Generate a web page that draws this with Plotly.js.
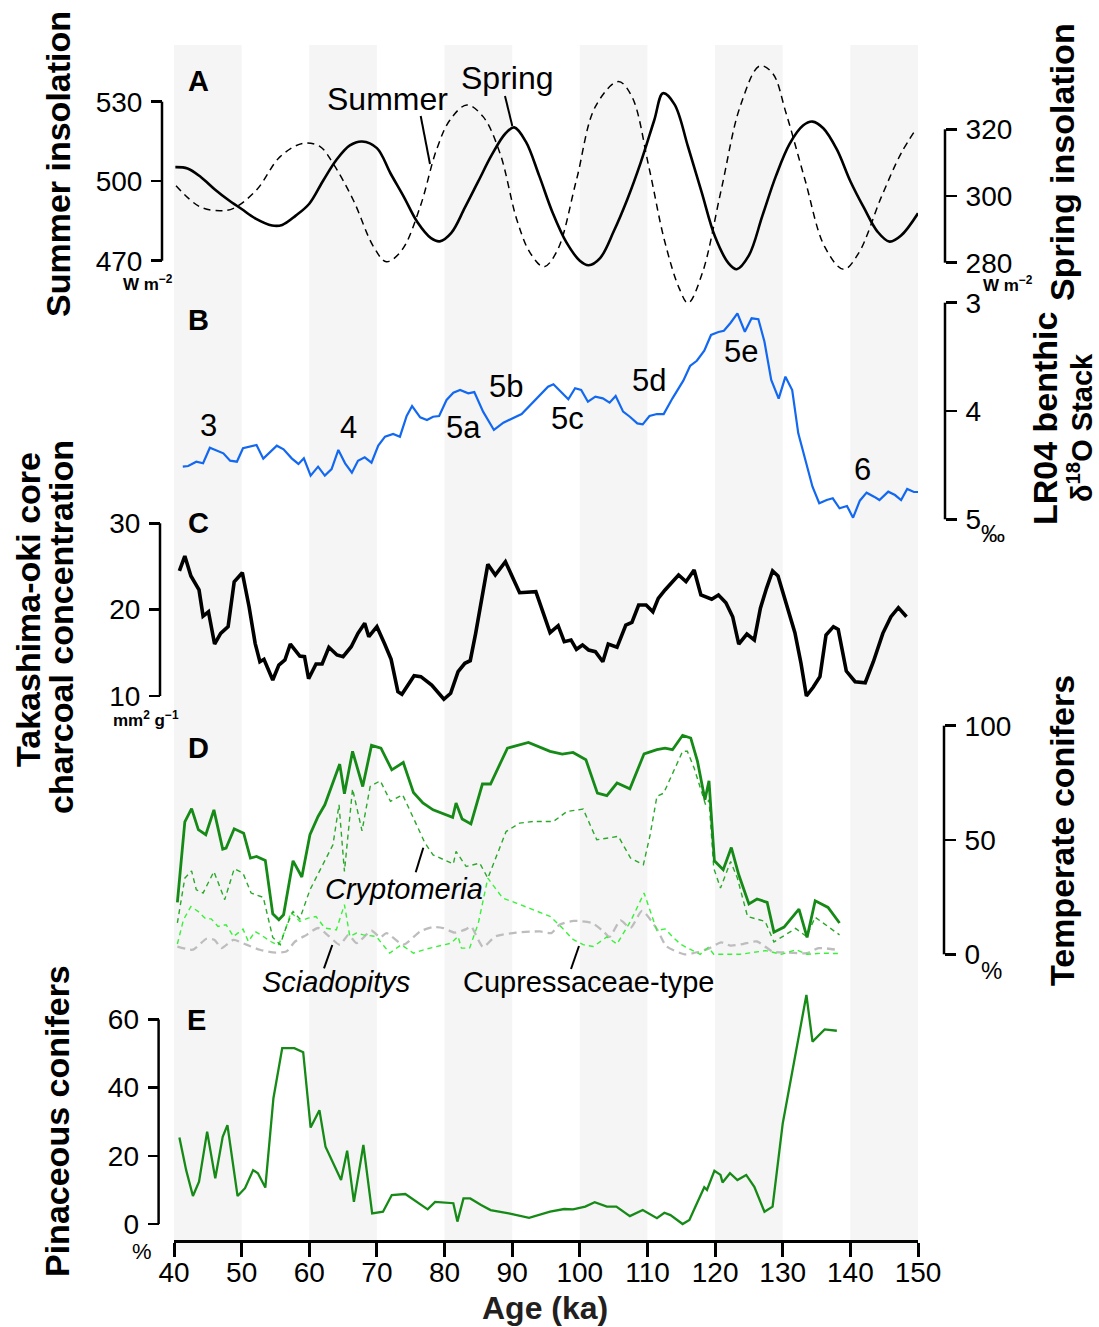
<!DOCTYPE html>
<html>
<head>
<meta charset="utf-8">
<script src="https://cdn.plot.ly/plotly-3.0.1.min.js"></script>
<style>html,body{margin:0;padding:0;background:#fff}#chart{width:1099px;height:1327px}</style>
</head>
<body>
<div id="chart"></div>
<script>
// ---------------- DATA ----------------
// Panel A: insolation (W m-2)
const summerAge = [40.2,42,44,46,48,50,52,54.5,56,58,60,62,64,66,67.8,70,72,74,76,78,79.3,81,83,85,87,89,90.3,92,94,96,98,100,101.3,103,105,107,109,111,112.3,114,116,118,120,122,123.2,125,127,129,131,133,134.4,136,138,140,142,144,145.8,147.5,150];
const summerVal = [505.3,504.8,501.5,497,493,489.5,486,483.3,483.5,487,491.5,500,508,513.5,515,512.5,503,494,484.5,478.5,477.3,480.5,490,500,510,518,520.3,515,502,488,477,470,468.3,471,481,493,507,523,533.2,529,513,496,479,469,466.8,472,487,502,514,521,522.5,520,512,500,490,481,477.2,479.5,487.9];
const springAge = [40.3,43.8,46.8,48.8,52.2,55.7,59.1,61.6,63.5,66.5,69.5,71.4,73.7,76.4,78.8,80.8,83.3,85.7,88.2,90.7,92.7,94.7,96.7,99.5,102.3,105.7,107.7,110.2,112.5,114.7,116,118.1,120.9,123.7,126.6,128.5,130.5,133.3,136.2,139,141.2,144.6,147.5,149.7];
const springVal = [303.1,296.8,295.6,296.3,301.8,311.8,315.8,314.8,309.8,298.8,284.8,280.3,283.8,296.8,313.8,322.8,327.3,323.8,312.8,292.8,282.8,278.8,283.8,304.8,326.8,334.3,329.8,308.8,286.8,272.3,267.9,276.8,301.8,326.8,339,336.8,324.8,304.8,284.8,278,282.8,299.8,312.8,320];

// Panel B: LR04 benthic d18O (permil)
const lrAge = [41.3,42.1,43.3,44.3,45.3,47.3,48.3,49.3,50.2,52.2,53.2,55.2,56.2,57.4,58.4,59.2,60.2,61.3,62.3,63.3,64.3,65.3,66.3,67.2,68.2,69.2,70.2,71.2,72.4,73.4,74.4,75.2,76.4,77.4,78.3,79.2,80.3,81.3,82.3,83.5,84.4,85.7,87.3,88.7,91.4,93.1,95.3,96.1,98.3,99.3,100.2,101.2,102.3,103.4,104.4,105.3,106.4,107.4,108.5,109.3,110.3,111.4,112.4,113.7,115.3,116.3,117.3,118.4,119.4,120.5,121.3,122.3,123.3,124.4,125.4,126.4,127.3,128.3,129.4,130.4,131.4,132.3,133.4,134.4,135.4,136.5,137.4,138.4,139.5,140.4,141.4,142.4,143.5,144.3,145.6,146.6,147.5,148.4,149.4,150];
const lrVal = [4.514,4.508,4.468,4.483,4.339,4.391,4.459,4.468,4.344,4.314,4.440,4.320,4.354,4.437,4.489,4.437,4.597,4.514,4.597,4.536,4.360,4.483,4.570,4.459,4.428,4.477,4.320,4.237,4.212,4.237,4.046,3.954,4.058,4.083,4.053,4.046,3.898,3.831,3.806,3.837,3.825,4.006,4.175,4.108,4.028,3.914,3.776,3.753,3.892,3.790,3.806,3.914,3.868,3.883,3.923,3.861,4.006,4.053,4.114,4.123,4.046,4.028,4.028,3.883,3.720,3.584,3.536,3.443,3.298,3.271,3.259,3.185,3.098,3.268,3.144,3.153,3.360,3.714,3.886,3.683,3.806,4.206,4.452,4.699,4.852,4.822,4.806,4.898,4.877,4.985,4.828,4.754,4.791,4.822,4.745,4.776,4.822,4.720,4.748,4.748];

// Panel C: charcoal concentration (mm2 g-1)
const chAge = [40.8,41.6,42.5,43.7,44.3,45.1,46.0,46.9,48.0,48.9,50.1,51.1,52.0,52.7,53.3,54.6,55.5,56.4,57.2,58.6,59.3,59.9,61.0,61.9,62.9,64.1,65.0,66.2,67.2,68.2,68.8,70.0,71.1,72.1,73.1,73.7,75.5,76.5,78.1,79.9,80.9,82.0,83.0,83.8,84.6,85.3,86.4,87.5,89.0,91.1,93.5,95.6,96.8,97.7,98.7,99.5,100.4,101.3,102.3,103.4,104.2,105.5,106.8,107.7,108.7,109.8,110.8,111.6,112.6,114.6,115.7,116.9,117.9,119.5,120.5,121.6,122.6,123.5,124.7,125.8,126.7,127.6,128.5,129.3,130.6,131.8,132.7,133.5,134.5,135.5,136.4,137.5,138.2,139.4,140.7,142.2,143.4,144.8,146.0,147.1,148.3];
const chVal = [24.48,26.21,23.90,22.28,19.26,19.76,16.02,17.26,18.03,23.24,24.28,20.34,16.10,13.97,14.25,11.85,13.59,14.17,16.02,14.63,14.55,12.00,13.71,13.71,15.64,14.75,14.55,15.71,17.26,18.42,16.87,18.03,16.10,14.25,10.50,10.20,12.35,12.24,11.27,9.62,10.31,12.81,13.79,14.09,17.26,20.54,25.25,24.01,25.55,21.96,22.08,17.33,18.14,16.29,16.49,15.41,15.91,15.33,15.13,13.97,16.02,15.64,18.22,18.53,20.54,20.54,19.76,21.31,22.28,24.01,23.24,24.59,21.70,21.20,21.70,20.80,19.18,16.02,17.18,16.49,20.16,22.47,24.48,23.90,20.34,17.33,13.79,10.00,11.01,12.24,17.06,18.03,17.72,12.89,11.66,11.54,13.97,17.26,19.18,20.23,19.18];

// Panel D: temperate conifers (%)
const tcAge = [40.5,41.6,42.6,43.6,44.7,45.9,47.2,47.7,48.9,50.3,51.3,52.2,53.5,54.6,55.5,56.2,57.6,58.9,60.1,61.3,62.3,63.5,64.5,65.2,66.4,67.9,69.2,70.6,72.2,73.9,75.4,76.8,78.3,81.2,81.7,82.6,83.9,85.6,86.8,89.3,92.4,95.6,97.4,99.0,100.9,102.6,104.0,105.5,107.4,109.5,111.4,112.6,113.7,115.2,116.4,117.4,118.5,119.1,119.9,121.2,122.4,123.5,125.0,126.2,127.7,128.7,130.2,132.4,133.6,134.8,136.7,138.4];
const tcVal = [22.7,57.9,63.7,54.5,52.3,63.2,46.0,46.5,54.9,53.0,42.1,42.8,41.1,17.7,15.1,17.3,40.9,33.8,52.3,60.3,65.4,74.9,83.2,70.2,88.8,73.4,91.4,90.2,80.7,83.9,70.8,66.2,63.2,59.9,66.2,59.2,57.0,74.5,74.5,90.2,92.7,88.8,87.6,88.3,85.1,70.5,69.4,74.9,72.4,87.7,89.5,90.2,89.5,95.8,94.6,84.4,67.6,75.9,40.9,37.0,46.7,34.8,22.0,24.2,22.7,9.7,11.9,19.8,7.4,23.4,20.5,13.7];
const crAge = [40.5,41.6,42.6,43.3,44.3,45.9,47.5,48.9,50.2,51.4,53.2,54.6,55.7,56.7,57.6,58.6,60.1,61.8,63.5,64.4,65.2,66.4,67.8,69.0,70.5,72.0,73.8,75.4,77.1,78.3,81.3,81.7,83.2,85.2,86.4,89.1,91.1,93.1,96.1,98.1,100.5,102.5,104.5,105.7,107.5,109.4,110.4,111.4,112.4,113.9,115.2,115.9,116.9,118.6,119.1,119.8,120.8,122.3,123.3,124.8,127.4,128.7,131.9,133.5,134.8,138.4];
const crVal = [13.7,33.3,36.5,28.2,26.8,36.2,23.9,37.4,35.5,26.8,24.9,7.4,4.2,12.9,18.7,15.5,28.2,38.4,47.9,65.4,36.2,72.4,54.0,73.4,75.9,66.9,69.8,59.6,48.7,43.5,39.5,45.0,38.4,39.9,33.3,53.7,57.4,58.1,58.1,62.5,63.5,50.1,50.9,51.6,42.1,39.2,52.3,69.1,70.5,80.0,88.8,88.8,81.5,65.4,67.6,37.7,29.0,40.6,33.3,16.5,14.4,5.4,11.3,7.8,16.2,8.5];
const cuAge = [40.5,41.4,42.5,43.6,44.7,45.5,46.5,47.7,48.8,50.2,51.0,52.0,53.2,54.3,55.4,56.4,57.3,58.6,59.8,61.0,62.3,64.0,65.2,66.0,67.0,68.0,69.9,71.9,73.6,75.4,77.3,81.0,82.0,82.5,83.7,85.0,86.4,88.6,90.6,95.6,97.3,99.0,100.5,102.0,104.0,105.5,107.5,109.5,111.4,112.6,113.9,115.0,117.8,119.0,119.8,121.2,123.7,127.5,129.8,132.0,133.6,136.0,138.4];
const cuVal = [4.5,15.1,20.9,18.7,15.5,15.5,12.2,12.9,7.8,11.0,5.6,10.0,7.8,5.6,3.9,10.0,18.5,14.4,15.8,16.5,11.5,10.7,21.7,7.8,9.3,8.5,7.8,0.5,4.2,0.5,2.3,4.9,7.8,2.7,2.7,13.7,33.3,24.6,22.4,16.6,11.8,6.5,4.2,3.4,7.6,4.5,14.4,26.8,10.4,11.1,7.1,4.2,0.0,3.0,0.0,0.0,0.0,1.6,0.0,2.0,0.0,0.5,0.3];
const scAge = [40.5,42.8,44.8,46.0,47.0,48.8,50.7,52.7,54.6,56.6,57.9,59.6,61.3,62.8,64.5,65.8,67.0,69.2,70.5,71.4,73.9,76.4,78.3,79.8,81.5,83.2,83.9,85.7,87.5,90.6,94.1,95.8,97.0,99.1,101.8,103.5,104.4,106.0,107.5,109.2,111.4,112.8,115.5,117.5,119.2,120.9,122.3,124.1,126.2,128.5,130.8,133.6,135.3,138.4];
const scVal = [3.4,2.0,6.8,6.3,2.7,6.3,4.2,2.0,0.8,1.2,5.6,8.5,11.5,8.2,4.2,8.5,4.9,10.3,7.4,9.3,4.2,10.0,11.9,11.5,9.5,11.0,12.2,3.2,7.8,9.5,10.0,9.3,12.9,14.6,13.7,10.0,7.6,14.8,11.5,19.0,11.0,3.5,0.0,1.0,2.7,5.2,3.8,4.5,5.6,1.2,0.8,0.5,2.7,1.8];

// Panel E: pinaceous conifers (%)
const piAge = [40.8,41.8,42.8,43.7,44.9,46.1,47.2,47.9,49.4,50.5,51.7,52.4,53.5,54.7,56.0,57.8,59.1,60.2,61.5,62.4,64.7,65.6,66.6,68.0,69.3,70.9,72.2,74.2,77.5,78.6,81.3,81.9,82.8,83.8,85.4,86.8,89.5,92.5,95.6,97.7,99.0,100.8,102.2,104.0,105.4,107.4,109.3,111.4,112.5,113.4,115.2,116.2,117.2,118.4,118.8,119.9,120.8,121.1,122.2,123.3,124.6,125.8,127.3,128.5,130.0,131.8,133.5,134.4,136.2,138.0];
const piVal = [25.4,15.8,8.2,12.4,27.1,13.4,25.6,29.0,8.2,10.5,15.8,14.9,10.7,36.9,51.6,51.6,50.4,28.3,33.4,22.7,12.9,21.5,6.5,23.2,3.1,3.6,8.5,8.8,4.3,6.5,6.1,0.7,7.5,7.5,5.6,4.1,3.1,1.8,3.6,4.4,4.3,5.1,6.4,5.1,5.1,2.3,4.1,1.7,3.3,2.6,0.0,1.2,5.6,10.8,10.0,15.6,14.4,12.2,14.9,12.9,14.4,10.9,3.6,5.1,29.5,49.1,67.2,53.5,57.1,56.7];

// Ticks and labels
const ageTicks = [40,50,60,70,80,90,100,110,120,130,140,150];
const grayBands = [[40,50],[60,70],[80,90],[100,110],[120,130],[140,150]];
const summerTicks = [470,500,530];
const springTicks = [280,300,320];
const lrTicks = [3,4,5];
const chTicks = [10,20,30];
const tcTicks = [0,50,100];
const piTicks = [0,20,40,60];
const misLabels = ["3","4","5a","5b","5c","5d","5e","6"];

// ---------------- LAYOUT HELPERS ----------------
const W = 1099, H = 1327, ML = 60, MR = 60, TOP = 45, BOT = 1250;
const FONT = "Liberation Sans, Arial, Helvetica, sans-serif";
const px = p => (p - ML) / (W - ML - MR);
const py = p => (BOT - p) / (BOT - TOP);
function rangeFrom(v1, p1, v2, p2) {
  const k = (v1 - v2) / (p2 - p1);
  return [v2 - (BOT - p2) * k, v1 + (p1 - TOP) * k];
}
function yax(range, xpos, side, tickvals, overlay) {
  const a = {
    range: range, domain: [0, 1], anchor: 'free', position: px(xpos), side: side,
    showline: false, showgrid: false, zeroline: false,
    ticks: 'outside', ticklen: 11, tickwidth: 2.5, tickcolor: '#000',
    tickvals: tickvals, ticktext: tickvals.map(String), ticklabelstandoff: 3,
    tickfont: {family: FONT, size: 28, color: '#000'}, fixedrange: true
  };
  if (overlay) a.overlaying = 'y';
  return a;
}
const black = '#000';
const dkGreen = '#168a16';
const TS = 34; // axis title size

const traces = [
  {x: springAge, y: springVal, yaxis: 'y2', mode: 'lines', line: {color: black, width: 1.5, dash: '7px,5px', shape: 'spline', smoothing: 1}},
  {x: summerAge, y: summerVal, yaxis: 'y', mode: 'lines', line: {color: black, width: 2.6, shape: 'spline', smoothing: 1}},
  {x: lrAge, y: lrVal, yaxis: 'y3', mode: 'lines', line: {color: '#1268f0', width: 2.2}},
  {x: chAge, y: chVal, yaxis: 'y4', mode: 'lines', line: {color: black, width: 3.6}},
  {x: scAge, y: scVal, yaxis: 'y5', mode: 'lines', line: {color: '#bdbdbd', width: 2.3, dash: '8px,5px', shape: 'spline', smoothing: 0.6}},
  {x: cuAge, y: cuVal, yaxis: 'y5', mode: 'lines', line: {color: '#38f238', width: 1.4, dash: '5px,4px'}},
  {x: crAge, y: crVal, yaxis: 'y5', mode: 'lines', line: {color: '#2aa82a', width: 1.4, dash: '5px,4px'}},
  {x: tcAge, y: tcVal, yaxis: 'y5', mode: 'lines', line: {color: dkGreen, width: 2.8}},
  {x: piAge, y: piVal, yaxis: 'y6', mode: 'lines', line: {color: dkGreen, width: 2.3}}
];

const shapes = grayBands.map(b => ({type: 'rect', xref: 'x', yref: 'paper', x0: b[0], x1: b[1], y0: 0, y1: 1, fillcolor: '#f5f5f5', line: {width: 0}, layer: 'below'}));
function bracket(yref, xpos, v0, v1) {
  return {type: 'line', xref: 'paper', yref: yref, x0: px(xpos), x1: px(xpos), y0: v0, y1: v1, line: {color: black, width: 2.5}};
}
shapes.push(bracket('y', 162, 470, 530));
shapes.push(bracket('y2', 945, 280, 320));
shapes.push(bracket('y3', 945, 3, 5));
shapes.push(bracket('y4', 160, 10, 30));
shapes.push(bracket('y5', 944, 0, 100));
shapes.push(bracket('y6', 158.6, 0, 60));
function leader(x0, y0, x1, y1) {
  return {type: 'line', xref: 'paper', yref: 'paper', x0: px(x0), y0: py(y0), x1: px(x1), y1: py(y1), line: {color: black, width: 2}};
}
shapes.push(leader(420.7, 116, 430, 164));
shapes.push(leader(505, 96, 512.3, 126));
shapes.push(leader(423.3, 847.7, 415.7, 872.3));
shapes.push(leader(332.3, 945, 324, 968.3));
shapes.push(leader(579, 946, 571, 969));

function ann(text, x, y, size, opts) {
  return Object.assign({text: text, xref: 'paper', yref: 'paper', x: px(x), y: py(y), xanchor: 'center', yanchor: 'middle', showarrow: false,
    font: {family: FONT, size: size, color: '#000'}}, opts || {});
}
const annotations = [
  ann('<b>A</b>', 198, 81, 29), ann('<b>B</b>', 198, 320, 29), ann('<b>C</b>', 198, 523, 29),
  ann('<b>D</b>', 198, 748, 29), ann('<b>E</b>', 196, 1020, 29),
  ann('Summer', 387, 99, 32), ann('Spring', 507, 78, 32),
  ann(misLabels[0], 208.7, 425, 31), ann(misLabels[1], 348.3, 427, 31), ann(misLabels[2], 463.3, 427, 31),
  ann(misLabels[3], 506, 386.5, 31), ann(misLabels[4], 567.5, 418.5, 31), ann(misLabels[5], 649, 380.5, 31),
  ann(misLabels[6], 740.8, 351.5, 31), ann(misLabels[7], 862.3, 470, 31),
  ann('<i>Cryptomeria</i>', 403.5, 889, 29), ann('<i>Sciadopitys</i>', 336, 982, 29), ann('Cupressaceae-type', 588, 982, 29),
  ann('<b>Summer insolation</b>', 58, 164, TS, {textangle: -90}),
  ann('<b>Spring insolation</b>', 1062, 162, TS, {textangle: -90}),
  ann('<b>LR04 benthic</b>', 1045, 419, TS, {textangle: -90}),
  ann('<b>δ<sup>18</sup>O Stack</b>', 1080, 428, 29, {textangle: -90}),
  ann('<b>Takashima-oki core</b>', 28, 610, TS, {textangle: -90}),
  ann('<b>charcoal concentration</b>', 61, 627, TS, {textangle: -90}),
  ann('<b>Temperate conifers</b>', 1062, 831, TS, {textangle: -90}),
  ann('<b>Pinaceous conifers</b>', 57, 1121, TS, {textangle: -90}),
  ann('<b>Age (ka)</b>', 545, 1308, 32, {font: {family: FONT, size: 32, color: '#231f20'}}),
  ann('<b>W m<sup>−2</sup></b>', 148, 283, 17), ann('<b>W m<sup>−2</sup></b>', 1008, 284, 17),
  ann('‰', 993, 533, 24), ann('<b>mm<sup>2</sup> g<sup>−1</sup></b>', 146, 719, 17),
  ann('%', 991, 971, 24), ann('%', 142, 1251, 22)
];

const layout = {
  width: W, height: H, margin: {l: ML, r: MR, t: TOP, b: H - BOT, pad: 0},
  paper_bgcolor: '#fff', plot_bgcolor: '#fff', showlegend: false,
  font: {family: FONT, color: '#000'},
  xaxis: {domain: [px(174), px(918)], range: [40, 150], anchor: 'free', position: py(1241),
    showline: true, linewidth: 2.5, linecolor: black, showgrid: false, zeroline: false,
    ticks: 'outside', ticklen: 14, tickwidth: 3, tickcolor: black, tickvals: ageTicks, ticklabelstandoff: -8,
    tickfont: {family: FONT, size: 28, color: black}, fixedrange: true},
  yaxis: yax(rangeFrom(530, 101.7, 470, 260.7), 162, 'left', summerTicks, false),
  yaxis2: yax(rangeFrom(320, 129.3, 280, 262.7), 945, 'right', springTicks, true),
  yaxis3: yax(rangeFrom(3, 302.7, 5, 519.3), 945, 'right', lrTicks, true),
  yaxis4: yax(rangeFrom(30, 523.3, 10, 696), 160, 'left', chTicks, true),
  yaxis5: yax(rangeFrom(100, 725.7, 0, 954.3), 944, 'right', tcTicks, true),
  yaxis6: yax(rangeFrom(60, 1019.5, 0, 1224), 158.6, 'left', piTicks, true),
  shapes: shapes, annotations: annotations
};
Plotly.newPlot('chart', traces, layout, {staticPlot: true, displayModeBar: false});
</script>
</body>
</html>
